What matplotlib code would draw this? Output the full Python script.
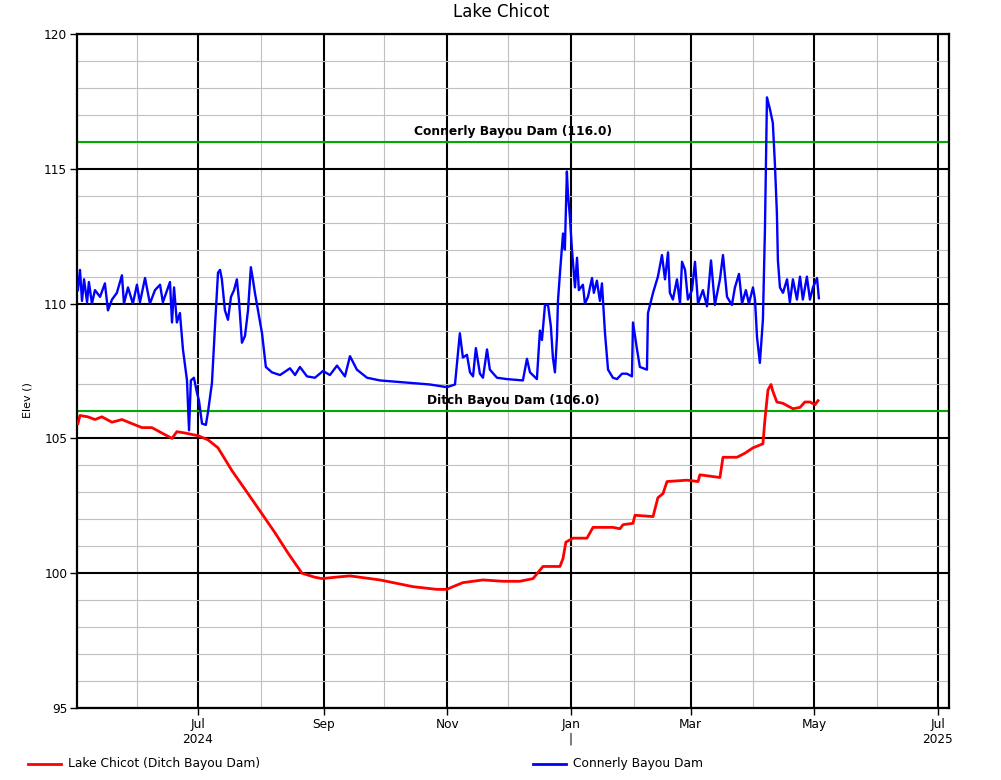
import matplotlib
matplotlib.use("Agg")
import matplotlib.pyplot as plt
import matplotlib.dates as mdates
from matplotlib.lines import Line2D
from matplotlib.ticker import MultipleLocator, FuncFormatter
import pandas as pd

# ---------------- data (days after 2024-05-01, elevation) ----------------
base = pd.Timestamp("2024-05-01")

blue_day = [1.8, 2.8, 3.8, 4.8, 6.3, 7.2, 8.7, 10.2, 12.7, 15.1, 16.6, 18.6, 21.0, 23.5,
            24.5, 26.5, 28.9, 30.9, 32.4, 34.9, 37.3, 39.8, 42.3, 43.7, 47.2, 48.2, 49.2,
            50.6, 52.1, 53.6, 55.6, 56.6, 57.5, 59.0, 60.5, 61.5, 63.0, 64.9, 65.9, 67.9,
            69.4, 70.9, 71.9, 72.8, 74.3, 75.8, 77.3, 78.8, 80.2, 81.2, 82.7, 84.2, 85.7,
            87.1, 88.1, 89.1, 90.6, 92.6, 94.5, 97.5, 101.5, 106.4, 108.9, 111.3, 114.8,
            118.7, 122.7, 126.1, 129.6, 133.5, 136.0, 139.4, 144.4, 150.8, 167.1, 175.4,
            183.8, 187.8, 190.2, 191.7, 193.7, 195.2, 196.7, 198.1, 200.1, 201.6, 203.6,
            205.0, 208.5, 213.4, 221.3, 223.3, 224.8, 228.2, 229.2, 229.7, 230.7, 232.2,
            233.7, 235.1, 236.1, 237.1, 238.1, 238.6, 239.6, 241.1, 242.0, 243.0, 243.5,
            244.5, 245.5, 247.0, 248.0, 248.9, 250.9, 251.9, 253.4, 255.4, 256.3, 257.8,
            259.3, 260.3, 261.8, 263.3, 265.7, 267.7, 270.2, 272.6, 275.1, 275.6, 277.6,
            279.0, 282.5, 283.0, 285.5, 287.9, 289.9, 291.4, 292.9, 293.8, 295.3, 297.3,
            298.8, 299.8, 301.3, 302.7, 304.7, 306.2, 307.7, 310.1, 312.1, 314.1, 316.0,
            318.5, 320.0, 322.0, 324.4, 325.9, 327.9, 329.4, 331.3, 332.8, 334.8, 335.8,
            336.8, 338.2, 339.7, 340.7, 341.7, 343.2, 344.6, 345.6, 346.6, 347.1, 348.1,
            349.6, 351.6, 353.0, 354.5, 356.5, 358.0, 359.4, 361.4, 362.9, 364.4, 366.4,
            367.3]
blue_elev = [110.5, 111.25, 110.1, 110.9, 110.05, 110.8, 110.0, 110.5, 110.25, 110.75, 109.75,
             110.15, 110.4, 111.05, 110.0, 110.6, 110.0, 110.7, 110.05, 110.95, 110.0, 110.5,
             110.7, 110.05, 110.8, 109.3, 110.6, 109.3, 109.65, 108.3, 107.15, 105.3, 107.15,
             107.25, 106.7, 106.4, 105.55, 105.5, 105.95, 107.05, 109.15, 111.15, 111.25,
             110.9, 109.75, 109.4, 110.25, 110.5, 110.9, 110.15, 108.55, 108.8, 109.75,
             111.35, 110.9, 110.4, 109.75, 108.9, 107.65, 107.45, 107.35, 107.6, 107.35,
             107.65, 107.3, 107.25, 107.5, 107.35, 107.7, 107.3, 108.05, 107.55, 107.25,
             107.15, 107.05, 107.0, 106.9, 107.0, 108.9, 108.0, 108.1, 107.45, 107.3, 108.35,
             107.4, 107.25, 108.3, 107.55, 107.25, 107.2, 107.15, 107.95, 107.45, 107.2,
             108.4, 109.0, 108.65, 109.95, 109.95, 109.15, 108.0, 107.45, 108.75, 110.1,
             111.15, 112.6, 112.0, 114.9, 114.1, 113.2, 112.0, 110.6, 111.7, 110.5, 110.7,
             110.0, 110.25, 110.95, 110.4, 110.85, 110.1, 110.75, 108.9, 107.55, 107.25,
             107.2, 107.4, 107.4, 107.3, 109.3, 108.3, 107.65, 107.55, 109.65, 110.4, 111.0,
             111.8, 110.9, 111.9, 110.4, 110.15, 110.9, 110.0, 111.55, 111.25, 110.15, 110.5,
             111.55, 110.0, 110.5, 109.9, 111.6, 109.95, 110.9, 111.8, 110.25, 109.95, 110.6,
             111.1, 110.0, 110.5, 110.0, 110.6, 110.15, 108.75, 107.8, 109.4, 112.75, 117.65,
             117.2, 116.7, 115.2, 113.35, 111.6, 110.6, 110.4, 110.9, 110.05, 110.9, 110.15,
             111.0, 110.15, 111.0, 110.15, 110.6, 110.95, 110.2]

red_day = [1.8, 2.8, 6.7, 10.2, 13.6, 18.6, 23.5, 28.4, 33.4, 38.3, 43.2, 48.2, 50.6, 54.6,
           61.0, 65.9, 70.9, 77.8, 85.7, 92.6, 99.0, 105.4, 112.3, 118.7, 122.2, 128.6,
           136.0, 150.8, 167.1, 178.9, 183.8, 186.8, 191.7, 201.6, 211.5, 219.8, 226.3,
           231.2, 239.6, 241.1, 242.5, 246.0, 252.9, 255.9, 265.7, 269.2, 270.7, 275.6,
           276.6, 285.5, 287.9, 290.4, 292.4, 302.2, 307.7, 308.6, 318.5, 320.0, 326.9,
           330.8, 334.8, 339.7, 340.7, 342.2, 343.7, 344.6, 346.6, 349.6, 354.5, 358.0,
           360.4, 362.9, 365.4, 366.9]
red_elev = [105.55, 105.85, 105.8, 105.7, 105.8, 105.6, 105.7, 105.55, 105.4, 105.4, 105.2,
            105.0, 105.25, 105.2, 105.1, 104.95, 104.65, 103.8, 102.95, 102.2, 101.5, 100.75,
            100.0, 99.85, 99.8, 99.85, 99.9, 99.75, 99.5, 99.4, 99.4, 99.5, 99.65, 99.75,
            99.7, 99.7, 99.8, 100.25, 100.25, 100.55, 101.15, 101.3, 101.3, 101.7, 101.7,
            101.65, 101.8, 101.85, 102.15, 102.1, 102.8, 102.95, 103.4, 103.45, 103.4,
            103.65, 103.55, 104.3, 104.3, 104.45, 104.65, 104.8, 105.7, 106.8, 107.0, 106.75,
            106.35, 106.3, 106.1, 106.15, 106.35, 106.35, 106.25, 106.4]

ref_levels = [116.0, 106.0]
ref_names = ["Connerly Bayou Dam", "Ditch Bayou Dam"]

blue_t = base + pd.to_timedelta(blue_day, unit="D")
red_t = base + pd.to_timedelta(red_day, unit="D")

# ---------------- figure ----------------
plt.rcParams["font.family"] = "DejaVu Sans"
fig = plt.figure(figsize=(10.01, 7.80), dpi=100)
ax = fig.add_axes([77 / 1001, 1 - 708 / 780, 872 / 1001, 674 / 780])

ax.set_xlim(pd.Timestamp("2024-05-02 08:00"), pd.Timestamp("2025-07-06 12:00"))
ax.set_ylim(95, 120)

ax.xaxis.set_major_locator(mdates.MonthLocator(bymonth=[1, 3, 5, 7, 9, 11]))
ax.xaxis.set_minor_locator(mdates.MonthLocator(bymonth=[2, 4, 6, 8, 10, 12]))
ax.yaxis.set_major_locator(MultipleLocator(5))
ax.yaxis.set_minor_locator(MultipleLocator(1))


def fmt_date(x, pos=None):
    d = mdates.num2date(x)
    lab = d.strftime("%b")
    if d.month == 7:
        lab += "\n" + str(d.year)
    elif d.month == 1:
        lab += "\n|"
    return lab


ax.xaxis.set_major_formatter(FuncFormatter(fmt_date))
ax.yaxis.set_major_formatter(FuncFormatter(lambda v, p: f"{v:.0f}"))

ax.grid(which="major", color="black", lw=1.5, zorder=1)
ax.grid(which="minor", color="#c0c0c0", lw=0.8, zorder=0)
ax.set_axisbelow(True)

ax.tick_params(which="major", length=5, width=1, color="black", labelsize=8.7, pad=2)
ax.tick_params(which="minor", length=0)
for s in ax.spines.values():
    s.set_linewidth(1.6)

# reference levels
for lvl, nm in zip(ref_levels, ref_names):
    ax.axhline(lvl, color="#00aa00", lw=1.5, zorder=2)
    ax.text(0.5, lvl + 0.15, f"{nm} ({lvl:.1f})", transform=ax.get_yaxis_transform(),
            ha="center", va="bottom", fontsize=8.8, fontweight="bold", zorder=5)

ax.plot(red_t, red_elev, color="#ff0000", lw=2.0, zorder=3)
ax.plot(blue_t, blue_elev, color="#0000ff", lw=1.7, zorder=4)

fig.text(501 / 1001, 1 - 12 / 780, "Lake Chicot", ha="center", va="center", fontsize=12)
fig.text(28 / 1001, 1 - 400 / 780, "Elev ()", rotation=90, ha="center", va="center", fontsize=8)

# legend at the bottom
fig.add_artist(Line2D([28 / 1001, 61 / 1001], [1 - 764 / 780] * 2, color="#ff0000", lw=2))
fig.text(68 / 1001, 1 - 764 / 780, "Lake Chicot (Ditch Bayou Dam)", va="center", fontsize=8.8)
fig.add_artist(Line2D([533 / 1001, 566 / 1001], [1 - 764 / 780] * 2, color="#0000ff", lw=2))
fig.text(573 / 1001, 1 - 764 / 780, "Connerly Bayou Dam", va="center", fontsize=8.8)

fig.savefig("out.png", dpi=100)
